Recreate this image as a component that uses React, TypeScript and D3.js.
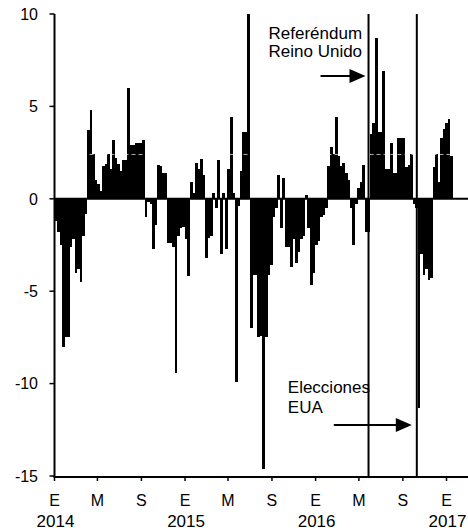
import React from "react";
import * as d3 from "d3";

// Weekly values, starting in the first week of January 2014
const startDate = "2014-01-01";
const values2014 = [
  -1.2, -1.8, -2.5, -8.0, -7.5, -7.5, -2.6, -2.2, -4.0, -3.8, -4.5, -2.0, -0.8,
  3.7, 4.8, 2.4, 1.0, 0.8, 0.4, 1.8, 1.9, 2.4, 1.6, 3.2, 2.2, 1.9, 1.5, 2.1, 2.1, 6.0, 2.9, 2.9, 3.0, 3.0, 3.0, 3.2,
  -1.0, -0.2, -0.3, -2.7, -1.4, 1.85, 1.8, 1.4, 1.4, -2.4, -2.4, -2.6, -9.4, -2.0, -1.6, -1.5,
];
const values2015 = [
  -2.2, -4.2,
  0.9, 0.3, 1.95, 1.6, 2.15, 1.3,
  -3.2, -2.1, -2.0, 0.3, -0.5, 2.1, -3.0, 0.3, -2.7,
  1.6, 4.45, 0.3,
  -9.9, -0.4,
  1.5, 3.6, 3.6, 10,
  -7.0, -4.1, -4.1, -7.5, -7.4, -14.6, -7.5, -4.1, -3.6, -1.0, -0.5,
  1.3, -1.6, 1.15, -2.6, -2.6, -3.7, -2.2, -3.5, -2.9, -2.2, -2.0, 0.2, -1.6, -4.65, -4.0,
];
const values2016 = [
  -2.5, -2.3, -1.0, -0.9, -0.5,
  1.8, 2.8, 2.4, 4.45, 2.3, 1.75, 1.95, 1.4, 1.0,
  -0.5, -2.5, -0.3,
  0.6, 0.9, 1.85,
  -1.8, -1.8,
  3.5, 4.1, 8.7, 3.6, 3.6, 6.9, 1.6, 1.6, 3.0, 1.4, 1.4, 3.3, 3.3, 3.3, 1.7, 1.85, 2.4,
  -0.3, -0.5, -11.3, -3.0, -4.1, -3.8, -4.4, -4.3,
  1.7, 2.4, 0.9, 3.3, 3.8,
];
const values2017 = [4.1, 4.3, 2.3];

const yTicks = [10, 5, 0, -5, -10, -15];
const monthTickDates = [
  "2014-01-01", "2014-05-01", "2014-09-01",
  "2015-01-01", "2015-05-01", "2015-09-01",
  "2016-01-01", "2016-05-01", "2016-09-01",
  "2017-01-01",
];
const monthLabels = ["E", "M", "S", "E", "M", "S", "E", "M", "S", "E"];
const yearTickDates = ["2014-01-01", "2015-01-01", "2016-01-01", "2017-01-01"];
const yearLabels = ["2014", "2015", "2016", "2017"];
const eventDates = ["2016-05-28", "2016-10-10"];
const eventLabels = [["Referéndum", "Reino Unido"], ["Elecciones", "EUA"]];
const refLevel = 2.4;

const parse = d3.utcParse("%Y-%m-%d");
const FONT = "'Liberation Sans', Arial, sans-serif";

export default function App() {
  const W = 468, H = 531;
  const left = 54.5, right = 467.6, top = 14, bottom = 476;
  const x = d3.scaleUtc()
    .domain([parse("2014-01-01")!, parse("2017-03-01")!])
    .range([left, right]);
  const y = d3.scaleLinear().domain([-15, 10]).range([bottom, top]);

  const values = [...values2014, ...values2015, ...values2016, ...values2017];
  const start = parse(startDate)!;
  const bars = values.map((v, i) => {
    const d0 = d3.utcDay.offset(start, 7 * i);
    const d1 = d3.utcDay.offset(start, 7 * (i + 1));
    return { v, x0: x(d0), x1: x(d1) };
  });

  const axisY = y(-15) + 1;

  // annotation layout offsets (relative to event line)
  const annot = [
    { textDx: -100, textY: [39, 57], arrowY: 76, arrowFrom: -48, arrowTo: -3 },
    { textDx: -129, textY: [393, 413], arrowY: 425, arrowFrom: -83, arrowTo: -5 },
  ];

  return (
    <div style={{ position: "absolute", left: 0, top: 0 }}>
      <svg width={W} height={H} style={{ display: "block", background: "#fff" }} fontFamily={FONT}>
        {/* bars */}
        <g shapeRendering="crispEdges">
          {bars.map((b, i) => (
            <rect
              key={i}
              x={b.x0}
              width={b.x1 - b.x0 + 0.3}
              y={Math.min(y(b.v), y(0))}
              height={Math.abs(y(b.v) - y(0))}
              fill="#000"
            />
          ))}
        </g>
        {/* faint reference line */}
        <line x1={left} x2={right} y1={y(refLevel)} y2={y(refLevel)} stroke="#fff" strokeWidth={1} strokeDasharray="4 3" opacity={0.7} />
        {/* zero line */}
        <line x1={left} x2={W} y1={y(0)} y2={y(0)} stroke="#000" strokeWidth={2} />
        {/* event lines */}
        {eventDates.map((d, i) => {
          const ex = x(parse(d)!);
          return <line key={i} x1={ex} x2={ex} y1={top} y2={axisY} stroke="#000" strokeWidth={2} />;
        })}
        {/* y axis */}
        <line x1={left} x2={left} y1={top} y2={axisY} stroke="#000" strokeWidth={2} />
        {yTicks.map((t) => (
          <g key={t}>
            <line x1={left - 5} x2={left} y1={y(t)} y2={y(t)} stroke="#000" strokeWidth={1.5} />
            <text x={38} y={y(t)} dy="0.36em" textAnchor="end" fontSize={16} fill="#000">
              {t}
            </text>
          </g>
        ))}
        {/* x axis */}
        <line x1={left - 1} x2={W} y1={axisY} y2={axisY} stroke="#000" strokeWidth={2} />
        {monthTickDates.map((d, i) => {
          const tx = x(parse(d)!);
          return (
            <g key={d}>
              <line x1={tx} x2={tx} y1={axisY} y2={axisY + 4} stroke="#000" strokeWidth={1.5} />
              <text x={tx} y={506} textAnchor="middle" fontSize={16} fill="#000">
                {monthLabels[i]}
              </text>
            </g>
          );
        })}
        {yearTickDates.map((d, i) => (
          <text key={d} x={x(parse(d)!) + 1} y={527} textAnchor="middle" fontSize={17} fill="#000">
            {yearLabels[i]}
          </text>
        ))}
        {/* annotations */}
        {eventDates.map((d, i) => {
          const ex = x(parse(d)!);
          const a = annot[i];
          const tip = ex + a.arrowTo;
          return (
            <g key={"a" + i}>
              {eventLabels[i].map((s, j) => (
                <text key={j} x={ex + a.textDx} y={a.textY[j]} fontSize={17} fill="#000">
                  {s}
                </text>
              ))}
              <line x1={ex + a.arrowFrom} x2={tip - 14} y1={a.arrowY} y2={a.arrowY} stroke="#000" strokeWidth={2} />
              <polygon
                points={`${tip},${a.arrowY} ${tip - 16},${a.arrowY - 7} ${tip - 16},${a.arrowY + 7}`}
                fill="#000"
              />
            </g>
          );
        })}
      </svg>
    </div>
  );
}
